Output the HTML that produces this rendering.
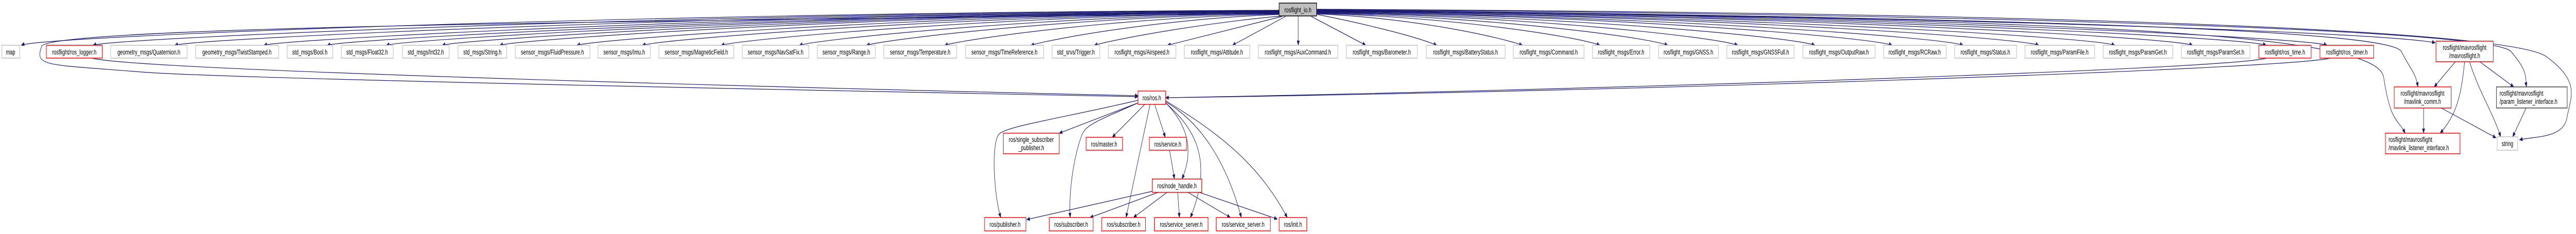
<!DOCTYPE html>
<html><head><meta charset="utf-8"><meta name="viewport" content="width=7284, initial-scale=1">
<style>
html,body{margin:0;padding:0;background:#fff;width:100%;height:100%;overflow:hidden;}
svg{display:block;position:absolute;left:0;top:0;width:100vw;height:100vh;}
text{font-family:"Liberation Sans",sans-serif;font-size:13.5px;fill:#000;}
.g{fill:#fff;stroke:#bfbfbf;stroke-width:1.5;}
.r{fill:#fff;stroke:#ff0000;stroke-width:1.5;}
.k{fill:#fff;stroke:#404040;stroke-width:1.5;}
.e{fill:none;stroke:#191970;stroke-width:1.2;marker-end:url(#a);}
</style></head><body>
<svg viewBox="0 0 7284 455" preserveAspectRatio="none" xmlns="http://www.w3.org/2000/svg">
<defs><marker id="a" markerWidth="10" markerHeight="8" refX="9" refY="4" orient="auto" markerUnits="userSpaceOnUse"><path d="M0,0 L10,4 L0,8 z" fill="#191970"/></marker></defs>
<g>
<path class="e" d="M3618,20 C1839,24 120,70 60,88"/>
<path class="e" d="M3618,20 C1940,25 323,74 263,88"/>
<path class="e" d="M3618,21 C2056,26 554,75 494,88"/>
<path class="e" d="M3618,21 C2182,26 806,76 746,88"/>
<path class="e" d="M3618,22 C2271,27 985,76 925,88"/>
<path class="e" d="M3618,22 C2355,27 1152,76 1092,88"/>
<path class="e" d="M3618,22 C2434,28 1310,76 1250,88"/>
<path class="e" d="M3618,23 C2515,28 1473,76 1413,88"/>
<path class="e" d="M3618,23 C2624,29 1691,76 1631,88"/>
<path class="e" d="M3618,24 C2717,30 1876,76 1816,88"/>
<path class="e" d="M3618,24 C2828,31 2099,76 2039,88"/>
<path class="e" d="M3618,25 C2939,32 2320,76 2260,88"/>
<path class="e" d="M3618,26 C3034,33 2510,76 2450,88"/>
<path class="e" d="M3618,27 C3144,35 2731,76 2671,88"/>
<path class="e" d="M3618,28 C3266,38 2975,76 2915,88"/>
<path class="e" d="M3625,31 C3400,45 3154,76 3094,88"/>
<path class="e" d="M3625,32 L3301,88"/>
<path class="e" d="M3635,32 L3485,88"/>
<path class="e" d="M3671,32 L3671,88"/>
<path class="e" d="M3708,32 L3862,88"/>
<path class="e" d="M3724,28 C3850,45 4000,70 4063,88"/>
<path class="e" d="M3724,27 C4000,35 4240,72 4305,88"/>
<path class="e" d="M3724,26 C4124,34 4464,72 4524,88"/>
<path class="e" d="M3724,25 C4220,33 4656,72 4716,88"/>
<path class="e" d="M3724,24 C4319,32 4854,72 4914,88"/>
<path class="e" d="M3724,24 C4428,31 5072,72 5132,88"/>
<path class="e" d="M3724,23 C4537,30 5290,72 5350,88"/>
<path class="e" d="M3724,23 C4637,30 5491,72 5551,88"/>
<path class="e" d="M3724,22 C4744,29 5705,72 5765,88"/>
<path class="e" d="M3724,22 C4852,29 5920,72 5980,88"/>
<path class="e" d="M3724,21 C4962,28 6140,72 6200,88"/>
<path class="e" d="M3724,21 C5066,28 6348,72 6408,88"/>
<path class="e" d="M3724,20 C5152,27 6520,72 6580,88"/>
<path class="e" d="M3724,20 C5300,30 6700,60 6886,83"/>
<path class="e" d="M3724,19 C5800,35 6760,60 6790,100 S6830,140 6837,169"/>
<path class="e" d="M3724,19 C5800,38 6720,60 6740,150 S6780,230 6801,259"/>
<path class="e" d="M3724,18 C5800,30 7050,60 7100,100 S7140,150 7144,169"/>
<path class="e" d="M3724,18 C5900,25 7100,60 7200,110 S7268,190 7258,230 S7160,265 7124,272"/>
<path class="e" d="M3618,26 C2000,40 140,50 118,90 S130,125 400,140 S3000,185 3218,188"/>
<path class="e" d="M260,113 C400,140 2800,180 3218,186"/>
<path class="e" d="M6410,113 C6300,135 4500,175 3296,190"/>
<path class="e" d="M6590,113 C6450,135 4600,178 3296,190"/>
<path class="e" d="M6943,120 L6883,169"/>
<path class="e" d="M7012,120 L7108,169"/>
<path class="e" d="M6969,120 C6960,180 6950,220 6900,259"/>
<path class="e" d="M6983,120 C7010,180 7050,220 7071,266"/>
<path class="e" d="M6853,210 L6853,259"/>
<path class="e" d="M6903,210 L7058,268"/>
<path class="e" d="M7143,210 L7105,266"/>
<path class="e" d="M3218,200 L2995,259"/>
<path class="e" d="M3218,195 C3000,230 2850,245 2826,260 S2810,380 2830,423"/>
<path class="e" d="M3218,200 C3120,230 3080,240 3065,255 S3020,350 3026,423"/>
<path class="e" d="M3237,203 L3145,267"/>
<path class="e" d="M3252,203 L3184,423"/>
<path class="e" d="M3265,203 L3295,267"/>
<path class="e" d="M3296,200 C3340,230 3385,280 3342,348"/>
<path class="e" d="M3296,200 C3360,240 3440,300 3366,423"/>
<path class="e" d="M3296,198 C3400,240 3470,320 3510,423"/>
<path class="e" d="M3296,196 C3450,260 3560,320 3640,423"/>
<path class="e" d="M3307,292 L3321,348"/>
<path class="e" d="M3258,372 L2903,427"/>
<path class="e" d="M3275,374 L3082,423"/>
<path class="e" d="M3300,374 L3205,423"/>
<path class="e" d="M3330,374 L3335,423"/>
<path class="e" d="M3359,374 L3479,423"/>
<path class="e" d="M3391,374 L3612,426"/>
</g>
<g text-anchor="middle">
<rect x="3617" y="6" width="106" height="25" fill="#bfbfbf" stroke="#000" stroke-width="1.5"/><text x="3670" y="24">rosflight_io.h</text>
<rect class="g" x="5" y="88" width="51" height="25"/><text x="30" y="106">map</text>
<rect class="r" x="131" y="88" width="158" height="25"/><text x="210" y="106">rosflight/ros_logger.h</text>
<rect class="g" x="313" y="88" width="216" height="25"/><text x="421" y="106">geometry_msgs/Quaternion.h</text>
<rect class="g" x="553" y="88" width="235" height="25"/><text x="670" y="106">geometry_msgs/TwistStamped.h</text>
<rect class="g" x="812" y="88" width="129" height="25"/><text x="876" y="106">std_msgs/Bool.h</text>
<rect class="g" x="965" y="88" width="147" height="25"/><text x="1038" y="106">std_msgs/Float32.h</text>
<rect class="g" x="1138" y="88" width="132" height="25"/><text x="1204" y="106">std_msgs/Int32.h</text>
<rect class="g" x="1295" y="88" width="138" height="25"/><text x="1364" y="106">std_msgs/String.h</text>
<rect class="g" x="1457" y="88" width="211" height="25"/><text x="1562" y="106">sensor_msgs/FluidPressure.h</text>
<rect class="g" x="1691" y="88" width="148" height="25"/><text x="1765" y="106">sensor_msgs/Imu.h</text>
<rect class="g" x="1863" y="88" width="212" height="25"/><text x="1969" y="106">sensor_msgs/MagneticField.h</text>
<rect class="g" x="2099" y="88" width="188" height="25"/><text x="2193" y="106">sensor_msgs/NavSatFix.h</text>
<rect class="g" x="2311" y="88" width="164" height="25"/><text x="2393" y="106">sensor_msgs/Range.h</text>
<rect class="g" x="2499" y="88" width="206" height="25"/><text x="2602" y="106">sensor_msgs/Temperature.h</text>
<rect class="g" x="2730" y="88" width="221" height="25"/><text x="2840" y="106">sensor_msgs/TimeReference.h</text>
<rect class="g" x="2975" y="88" width="135" height="25"/><text x="3042" y="106">std_srvs/Trigger.h</text>
<rect class="g" x="3134" y="88" width="191" height="25"/><text x="3229" y="106">rosflight_msgs/Airspeed.h</text>
<rect class="g" x="3349" y="88" width="185" height="25"/><text x="3441" y="106">rosflight_msgs/Attitude.h</text>
<rect class="g" x="3558" y="88" width="225" height="25"/><text x="3670" y="106">rosflight_msgs/AuxCommand.h</text>
<rect class="g" x="3807" y="88" width="201" height="25"/><text x="3907" y="106">rosflight_msgs/Barometer.h</text>
<rect class="g" x="4033" y="88" width="223" height="25"/><text x="4144" y="106">rosflight_msgs/BatteryStatus.h</text>
<rect class="g" x="4279" y="88" width="200" height="25"/><text x="4379" y="106">rosflight_msgs/Command.h</text>
<rect class="g" x="4503" y="88" width="162" height="25"/><text x="4584" y="106">rosflight_msgs/Error.h</text>
<rect class="g" x="4690" y="88" width="169" height="25"/><text x="4774" y="106">rosflight_msgs/GNSS.h</text>
<rect class="g" x="4883" y="88" width="190" height="25"/><text x="4978" y="106">rosflight_msgs/GNSSFull.h</text>
<rect class="g" x="5098" y="88" width="204" height="25"/><text x="5200" y="106">rosflight_msgs/OutputRaw.h</text>
<rect class="g" x="5326" y="88" width="177" height="25"/><text x="5414" y="106">rosflight_msgs/RCRaw.h</text>
<rect class="g" x="5527" y="88" width="175" height="25"/><text x="5614" y="106">rosflight_msgs/Status.h</text>
<rect class="g" x="5726" y="88" width="197" height="25"/><text x="5824" y="106">rosflight_msgs/ParamFile.h</text>
<rect class="g" x="5947" y="88" width="197" height="25"/><text x="6045" y="106">rosflight_msgs/ParamGet.h</text>
<rect class="g" x="6168" y="88" width="194" height="25"/><text x="6265" y="106">rosflight_msgs/ParamSet.h</text>
<rect class="r" x="6387" y="88" width="148" height="25"/><text x="6461" y="106">rosflight/ros_time.h</text>
<rect class="r" x="6560" y="88" width="152" height="25"/><text x="6636" y="106">rosflight/ros_timer.h</text>
<rect class="r" x="6888" y="80" width="162" height="40"/><text x="6969" y="97">rosflight/mavrosflight</text><text x="6969" y="113">/mavrosflight.h</text>
<rect class="r" x="6770" y="169" width="161" height="41"/><text x="6850" y="186">rosflight/mavrosflight</text><text x="6850" y="202">/mavlink_comm.h</text>
<rect class="k" x="7059" y="169" width="200" height="41"/><text x="7068" y="186" text-anchor="start">rosflight/mavrosflight</text><text x="7068" y="202" text-anchor="start">/param_listener_interface.h</text>
<rect class="r" x="6745" y="259" width="211" height="40"/><text x="6754" y="276" text-anchor="start">rosflight/mavrosflight</text><text x="6754" y="292" text-anchor="start">/mavlink_listener_interface.h</text>
<rect class="g" x="7061" y="266" width="58" height="26"/><text x="7090" y="284">string</text>
<rect class="r" x="3218" y="177" width="78" height="26"/><text x="3257" y="195">ros/ros.h</text>
<rect class="r" x="2837" y="259" width="158" height="40"/><text x="2916" y="276">ros/single_subscriber</text><text x="2916" y="292">_publisher.h</text>
<rect class="r" x="3071" y="267" width="103" height="25"/><text x="3122" y="285">ros/master.h</text>
<rect class="r" x="3250" y="267" width="105" height="25"/><text x="3302" y="285">ros/service.h</text>
<rect class="r" x="3258" y="348" width="140" height="26"/><text x="3328" y="366">ros/node_handle.h</text>
<rect class="r" x="2784" y="423" width="117" height="26"/><text x="2842" y="441">ros/publisher.h</text>
<rect class="r" x="2967" y="423" width="124" height="26"/><text x="3029" y="441">ros/subscriber.h</text>
<rect class="r" x="3115" y="423" width="124" height="26"/><text x="3177" y="441">ros/subscriber.h</text>
<rect class="r" x="3264" y="423" width="152" height="26"/><text x="3340" y="441">ros/service_server.h</text>
<rect class="r" x="3439" y="423" width="153" height="26"/><text x="3515" y="441">ros/service_server.h</text>
<rect class="r" x="3617" y="423" width="78" height="26"/><text x="3656" y="441">ros/init.h</text>
</g>
</svg>
</body></html>
